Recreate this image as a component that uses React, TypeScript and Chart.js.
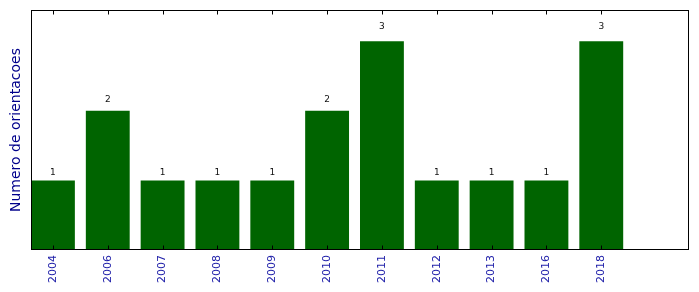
import React, { useEffect, useRef } from "react";
import { Chart, registerables } from "chart.js";

Chart.register(...registerables);

const years = ["2004", "2006", "2007", "2008", "2009", "2010", "2011", "2012", "2013", "2016", "2018"];
const counts = [1, 2, 1, 1, 1, 2, 3, 1, 1, 1, 3];
const xMax = 12;
const yMax = 3.45;
const barOffset = 0.4;
const yTitle = "Numero de orientacoes";

const framePlugin = {
  id: "frameAndLabels",
  afterDatasetsDraw(chart: any) {
    const { ctx, chartArea, scales } = chart;
    const x = scales.x;
    const y = scales.y;
    ctx.save();
    // value labels
    ctx.fillStyle = "#111";
    ctx.font = "9px 'DejaVu Sans'";
    ctx.textAlign = "center";
    ctx.textBaseline = "bottom";
    counts.forEach((v, i) => {
      ctx.fillText(String(v), x.getPixelForValue(i + barOffset), y.getPixelForValue(v * 1.05));
    });
    // frame
    ctx.strokeStyle = "#000";
    ctx.lineWidth = 1;
    const l = Math.round(chartArea.left) + 0.5;
    const r = Math.round(chartArea.right) - 0.5;
    const t = Math.round(chartArea.top) + 0.5;
    const b = Math.round(chartArea.bottom) - 0.5;
    ctx.strokeRect(l, t, r - l, b - t);
    // inward ticks
    ctx.beginPath();
    years.forEach((_, i) => {
      const px = Math.round(x.getPixelForValue(i + barOffset)) + 0.5;
      ctx.moveTo(px, t);
      ctx.lineTo(px, t + 4);
      ctx.moveTo(px, b);
      ctx.lineTo(px, b - 4);
    });
    ctx.stroke();
    ctx.restore();
  },
};

export default function App() {
  const ref = useRef<HTMLCanvasElement>(null);
  useEffect(() => {
    const canvas = ref.current!;
    const chart = new Chart(canvas, {
      type: "bar",
      data: {
        datasets: [
          {
            data: counts.map((v, i) => ({ x: i + barOffset, y: v })),
            backgroundColor: "#006400",
            borderWidth: 0,
            barPercentage: 0.8,
            categoryPercentage: 1,
          },
        ],
      },
      options: {
        animation: false,
        responsive: false,
        layout: { padding: { left: 0, right: 10, top: 10, bottom: 0 } },
        plugins: { legend: { display: false }, tooltip: { enabled: false } },
        scales: {
          x: {
            type: "linear",
            min: 0,
            max: xMax,
            offset: false,
            grid: { display: false, drawTicks: false },
            border: { display: false },
            afterBuildTicks: (scale: any) => {
              scale.ticks = years.map((_, i) => ({ value: i + barOffset }));
            },
            afterFit: (scale: any) => {
              scale.height = 42;
            },
            ticks: {
              autoSkip: false,
              minRotation: 90,
              maxRotation: 90,
              padding: 5,
              color: "#2222aa",
              font: { family: "'DejaVu Sans'", size: 11 },
              callback: (_v: any, i: number) => years[i],
            },
          },
          y: {
            min: 0,
            max: yMax,
            grid: { display: false, drawTicks: false },
            border: { display: false },
            ticks: { display: false },
            afterFit: (scale: any) => {
              scale.width = 31;
            },
            title: {
              display: true,
              text: yTitle,
              color: "#00008b",
              font: { family: "'DejaVu Sans'", size: 14 },
              padding: { top: 7.5, bottom: 0 },
            },
          },
        },
      },
      plugins: [framePlugin],
    } as any);
    return () => chart.destroy();
  }, []);
  return (
    <div style={{ position: "absolute", left: 0, top: 0, width: 699, height: 292, background: "#fff" }}>
      <canvas ref={ref} width={699} height={292} />
    </div>
  );
}
